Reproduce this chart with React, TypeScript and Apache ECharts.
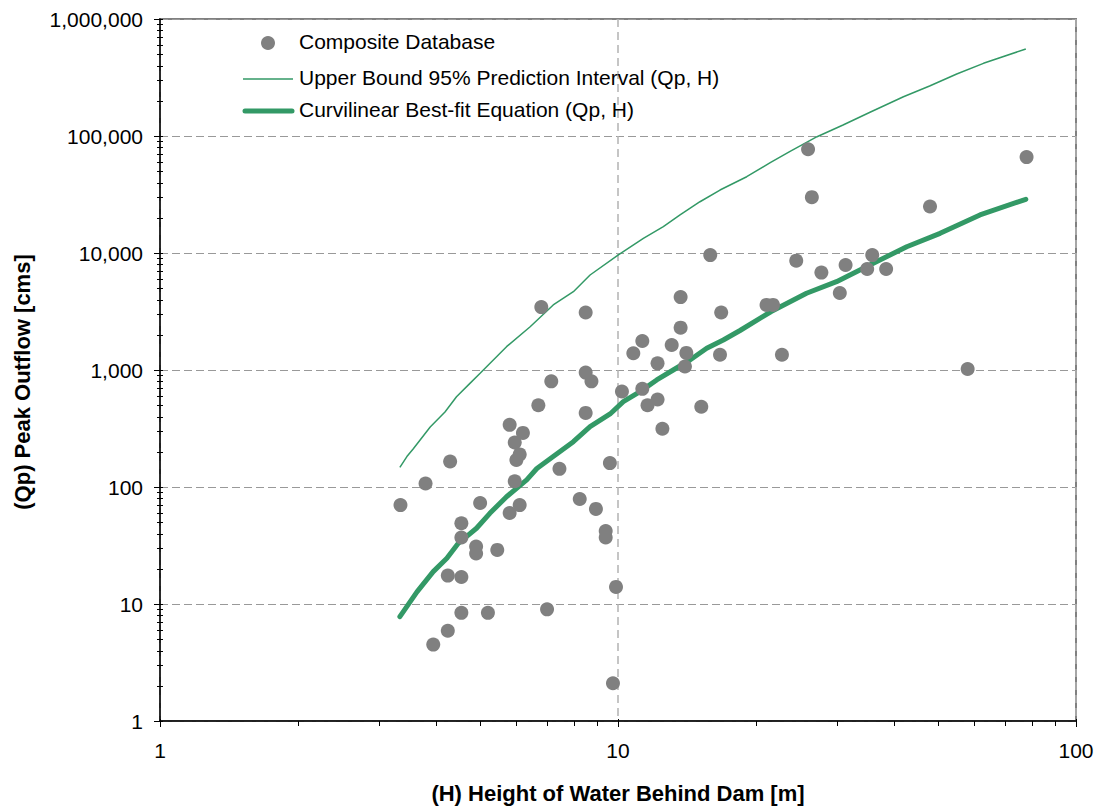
import React, { useEffect, useRef } from "react";
import * as echarts from "echarts";

// Observed dam failures (Composite Database): height H [m] and peak outflow Qp [cms]
const obsH = [
  26, 78, 26.5, 48, 15.9, 35.9, 24.5, 31.4, 27.8, 35, 38.5, 30.5, 13.7, 21.1, 21.8,
  6.8, 16.8, 8.5, 13.7, 11.3, 13.1, 10.8, 14.1, 16.7, 22.8, 12.2, 14.0, 58, 8.5,
  8.75, 7.15, 11.3, 10.2, 12.2, 6.7, 11.6, 15.2, 8.5, 5.8, 12.5, 6.2, 5.95, 6.1,
  6.0, 4.3, 9.6, 7.45, 5.95, 3.8, 8.25, 5.0, 6.1, 3.35, 8.95, 5.8, 4.55, 4.55, 9.4,
  9.4, 4.9, 4.9, 5.45, 4.25, 4.55, 9.9, 7.0, 4.55, 5.2, 4.25, 3.95, 9.75,
];
const obsQp = [
  77000, 66000, 30000, 25000, 9600, 9600, 8600, 7900, 6800, 7300, 7300, 4550, 4200, 3600, 3600,
  3450, 3100, 3100, 2300, 1770, 1635, 1390, 1400, 1350, 1350, 1140, 1070, 1020, 950,
  800, 800, 690, 655, 560, 500, 500, 485, 430, 340, 315, 290, 240, 190,
  170, 165, 160, 143, 112, 107, 79, 73, 70, 70, 65, 60, 49, 37, 42,
  37, 31, 27, 29, 17.5, 17, 14, 9, 8.4, 8.4, 5.9, 4.5, 2.1,
];

// Upper bound 95% prediction interval
const upperH = [
  3.34, 3.46, 3.57, 3.89, 4.19, 4.44, 4.75, 5.0, 5.71, 6.43, 7.22, 7.99, 8.69, 10.0, 11.36,
  12.56, 13.66, 15.1, 16.7, 19.1, 21.5, 23.7, 27.2, 31.0, 35.5, 42.0, 47.9, 54.9, 62.8, 77.7,
];
const upperQp = [
  147, 182, 211, 326, 438, 591, 769, 937, 1583, 2344, 3594, 4670, 6486, 9610, 13360,
  16790, 21130, 27430, 34530, 44870, 59120, 73420, 98600, 124200, 159600, 216700, 267500, 338800, 418000, 554500,
];

// Curvilinear best-fit equation
const fitH = [
  3.34, 3.64, 3.95, 4.23, 4.48, 4.91, 5.25, 5.71, 6.32, 6.65, 7.22, 7.99, 8.69, 9.61, 10.27,
  11.17, 12.15, 13.2, 14.36, 15.62, 16.98, 18.47, 21.6, 25.8, 30.0, 36.1, 42.7, 50.5, 61.7, 77.7,
];
const fitQp = [
  7.8, 12.7, 18.9, 24.6, 33, 44.4, 59.6, 82.6, 115, 144, 182, 244, 328, 421, 536,
  653, 822, 1000, 1217, 1532, 1805, 2176, 3162, 4525, 5688, 8166, 11320, 14730, 21130, 28770,
];

const legendLabels = [
  "Composite Database",
  "Upper Bound 95% Prediction Interval (Qp, H)",
  "Curvilinear Best-fit Equation (Qp, H)",
];
const xAxisTitle = "(H) Height of Water Behind Dam [m]";
const yAxisTitle = "(Qp) Peak Outflow [cms]";

const xMin = 1;
const xMax = 100;
const yMin = 1;
const yMax = 1000000;
const minorMultipliers = [2, 3, 4, 5, 6, 7, 8, 9];
const xDecades = [1, 10];
const yDecades = [1, 10, 100, 1000, 10000, 100000];
const xMajorTicks = [1, 10, 100];
const yMajorTicks = [1, 10, 100, 1000, 10000, 100000, 1000000];

const GREEN = "#339966";
const GRAY = "#808080";
const FONT = "'Liberation Sans', Arial, sans-serif";

export default function App() {
  const ref = useRef<HTMLDivElement>(null);

  useEffect(() => {
    document.body.style.margin = "0";
    const chart = echarts.init(ref.current as HTMLDivElement, null, { renderer: "svg" });

    const scatterData = obsH.map((h, i) => [h, obsQp[i]]);
    const upperData = upperH.map((h, i) => [h, upperQp[i]]);
    const fitData = fitH.map((h, i) => [h, fitQp[i]]);

    const option: any = {
      animation: false,
      backgroundColor: "#fff",
      grid: {
        left: 160,
        right: 24,
        top: 19,
        bottom: 89,
        show: true,
        borderColor: GRAY,
        borderWidth: 2,
        backgroundColor: "transparent",
        outerBoundsMode: "none",
      },
      xAxis: {
        type: "log",
        logBase: 10,
        min: xMin,
        max: xMax,
        splitNumber: 2,
        name: xAxisTitle,
        nameLocation: "middle",
        nameGap: 61,
        nameTextStyle: { fontFamily: FONT, fontSize: 22, fontWeight: "bold", color: "#000" },
        axisLine: { show: true, onZero: false, lineStyle: { color: "#000", width: 1.5 } },
        axisTick: { show: false },
        axisLabel: { fontFamily: FONT, fontSize: 21, color: "#000", margin: 19 },
        splitLine: { show: true, lineStyle: { color: "#b3b3b3", width: 1.5, type: [8, 5] } },
        minorTick: { show: false },
      },
      yAxis: {
        type: "log",
        logBase: 10,
        min: yMin,
        max: yMax,
        splitNumber: 6,
        name: yAxisTitle,
        nameLocation: "middle",
        nameGap: 127,
        nameTextStyle: {
          fontFamily: FONT,
          fontSize: 22,
          fontWeight: "bold",
          color: "#000",
          padding: [0, 24, 0, 0],
        },
        axisLine: { show: true, onZero: false, lineStyle: { color: "#000", width: 1.5 } },
        axisTick: { show: false },
        axisLabel: {
          fontFamily: FONT,
          fontSize: 21,
          color: "#000",
          margin: 17,
          formatter: (v: number) => Math.round(v).toLocaleString("en-US"),
        },
        splitLine: { show: true, lineStyle: { color: "#999", width: 1, type: [8, 4] } },
        minorTick: { show: false },
      },
      series: [
        {
          name: legendLabels[1],
          type: "line",
          data: upperData,
          showSymbol: false,
          symbol: "none",
          lineStyle: { color: GREEN, width: 1.5 },
          z: 2,
          silent: true,
        },
        {
          name: legendLabels[2],
          type: "line",
          data: fitData,
          showSymbol: false,
          symbol: "none",
          lineStyle: { color: GREEN, width: 5, cap: "round", join: "round" },
          z: 3,
          silent: true,
        },
        {
          name: legendLabels[0],
          type: "scatter",
          data: scatterData,
          symbol: "circle",
          symbolSize: 14,
          itemStyle: { color: GRAY, opacity: 1 },
          z: 4,
          silent: true,
        },
      ],
    };

    chart.setOption(option);

    // Axis ticks (log minor ticks 2..9 per decade), positioned through the chart's own scales
    const toPx = (x: number, y: number): number[] =>
      chart.convertToPixel({ gridIndex: 0 }, [x, y]) as number[];
    const tickLine = (x1: number, y1: number, x2: number, y2: number) => ({
      type: "line",
      silent: true,
      z: 10,
      shape: { x1, y1, x2, y2 },
      style: { stroke: "#000", lineWidth: 1 },
    });
    const ticks: any[] = [];
    xDecades.forEach((d) =>
      minorMultipliers.forEach((m) => {
        const p = toPx(d * m, yMin);
        const x = Math.round(p[0]) + 0.5;
        ticks.push(tickLine(x, p[1], x, p[1] + 5));
      })
    );
    xMajorTicks.forEach((v) => {
      const p = toPx(v, yMin);
      const x = Math.round(p[0]) + 0.5;
      ticks.push(tickLine(x, p[1] - 2, x, p[1] + 6));
    });
    yDecades.forEach((d) =>
      minorMultipliers.forEach((m) => {
        const p = toPx(xMin, d * m);
        const y = Math.round(p[1]) + 0.5;
        ticks.push(tickLine(p[0] - 3, y, p[0] + 3, y));
      })
    );
    yMajorTicks.forEach((v) => {
      const p = toPx(xMin, v);
      const y = Math.round(p[1]) + 0.5;
      ticks.push(tickLine(p[0] - 6, y, p[0] + 3, y));
    });

    const legendText = (y: number, text: string) => ({
      type: "text",
      left: 299,
      top: y - 12,
      silent: true,
      style: { text, fill: "#000", font: `21px ${FONT}` },
    });

    chart.setOption({
      graphic: [
        {
          type: "circle",
          silent: true,
          shape: { cx: 268, cy: 43, r: 7 },
          style: { fill: GRAY },
        },
        {
          type: "line",
          silent: true,
          shape: { x1: 243, y1: 79, x2: 293, y2: 79 },
          style: { stroke: GREEN, lineWidth: 1.5 },
        },
        {
          type: "line",
          silent: true,
          shape: { x1: 245, y1: 111, x2: 292, y2: 111 },
          style: { stroke: GREEN, lineWidth: 5, lineCap: "round" },
        },
        legendText(43, legendLabels[0]),
        legendText(79, legendLabels[1]),
        legendText(111, legendLabels[2]),
        ...ticks,
      ],
    });

    return () => chart.dispose();
  }, []);

  return <div ref={ref} style={{ width: 1100, height: 810 }} />;
}
